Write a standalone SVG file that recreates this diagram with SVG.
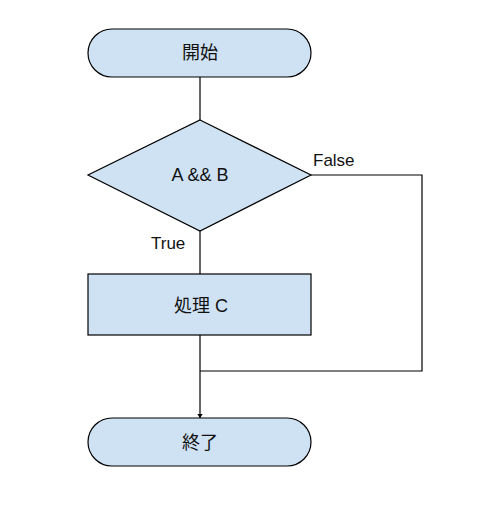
<svg xmlns="http://www.w3.org/2000/svg" width="477" height="521" viewBox="0 0 477 521">
<style>
.shape{fill:#cfe2f3;stroke:#000;stroke-width:1.2}
.lbl{font-family:"Liberation Sans","Noto Sans CJK JP",Arial,sans-serif;font-size:18px;fill:#111;text-anchor:middle;dominant-baseline:central}
.edge{fill:none;stroke:#000;stroke-width:1.2}
.elbl{font-family:"Liberation Sans",Arial,sans-serif;font-size:17px;fill:#111}
</style>
<defs>
<marker id="arr" viewBox="0 0 6 8" refX="6" refY="4" markerWidth="4" markerHeight="6" markerUnits="userSpaceOnUse" orient="auto">
<path d="M0,0 L6,4 L0,8 Z" fill="#000"/>
</marker>
</defs>
<rect width="477" height="521" fill="#fff"/>
<g id="connectors">
<path class="edge" d="M200,77 V120"/>
<path class="edge" d="M200,231 V274"/>
<path class="edge" d="M311,175 H422 V371 H200"/>
<path class="edge" d="M200,335 V418" marker-end="url(#arr)"/>
<text class="elbl" x="313" y="166">False</text>
<text class="elbl" x="151" y="249">True</text>
</g>
<g id="start">
<rect class="shape" x="88" y="29" width="223" height="48" rx="24" ry="24"/>
<text class="lbl" x="200" y="53">開始</text>
</g>
<g id="decision">
<polygon class="shape" points="200,120 311,175 200,231 88,175"/>
<text class="lbl" x="200" y="175">A &amp;&amp; B</text>
</g>
<g id="process">
<rect class="shape" x="88" y="274" width="223" height="61"/>
<text class="lbl" x="201" y="306">処理 C</text>
</g>
<g id="end">
<rect class="shape" x="88" y="418" width="223" height="48" rx="24" ry="24"/>
<text class="lbl" x="200" y="443">終了</text>
</g>
</svg>
